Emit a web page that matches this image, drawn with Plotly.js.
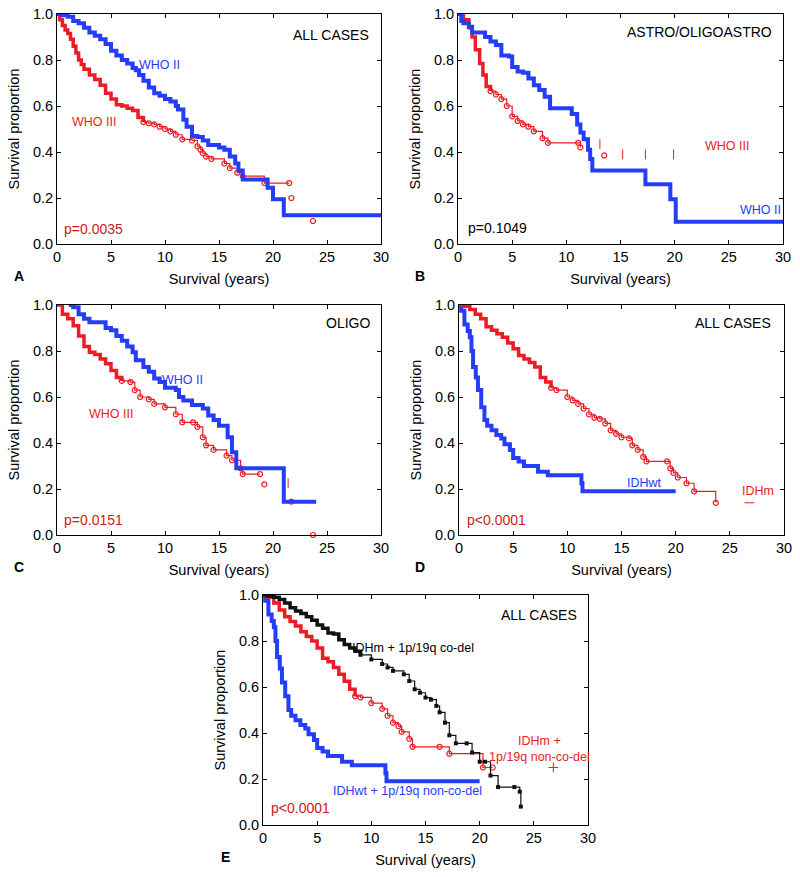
<!DOCTYPE html>
<html>
<head>
<meta charset="utf-8">
<script src="https://cdn.plot.ly/plotly-3.0.1.min.js"></script>
<style>html,body{margin:0;padding:0;background:#fff;}#chart{width:800px;height:877px;}</style>
</head>
<body>
<div id="chart"></div>
<script>
// ---------- DATA ----------
// Panel A: all cases, WHO II vs WHO III
const aWho2T = [0, 0.5, 1, 1.5, 2, 2.5, 3, 3.5, 4, 4.5, 5, 5.5, 6, 6.5, 7, 7.3, 7.6, 8, 8.5, 9, 9.5, 10, 10.5, 11, 11.2, 11.7, 12, 12.5, 13, 13.5, 14, 15, 15.5, 16, 16.5, 16.8, 17.2, 19.5, 20, 21, 30];
const aWho2S = [1, 0.995, 0.988, 0.97, 0.96, 0.94, 0.92, 0.905, 0.89, 0.87, 0.84, 0.82, 0.80, 0.785, 0.765, 0.755, 0.735, 0.71, 0.68, 0.655, 0.645, 0.63, 0.62, 0.60, 0.585, 0.54, 0.51, 0.47, 0.465, 0.45, 0.43, 0.42, 0.41, 0.38, 0.35, 0.32, 0.28, 0.245, 0.195, 0.125, 0.125];
const aWho3T = [0, 0.25, 0.5, 0.75, 1, 1.25, 1.5, 1.75, 2, 2.25, 2.5, 3, 3.5, 4, 4.5, 5, 5.5, 6, 6.5, 7, 7.5, 8, 8.5, 9, 9.5, 10, 10.5, 11, 11.6, 12.5, 13, 13.3, 13.5, 13.8, 14.3, 15.5, 16, 16.7, 17.2, 19.2, 21.5];
const aWho3S = [1, 0.975, 0.95, 0.93, 0.915, 0.89, 0.86, 0.83, 0.80, 0.78, 0.76, 0.735, 0.715, 0.69, 0.655, 0.63, 0.605, 0.60, 0.59, 0.58, 0.55, 0.53, 0.525, 0.52, 0.51, 0.50, 0.49, 0.475, 0.455, 0.45, 0.425, 0.41, 0.395, 0.38, 0.37, 0.35, 0.33, 0.31, 0.295, 0.265, 0.265];
const aWho3LateT = [21.7, 23.7];
const aWho3LateS = [0.20, 0.10];

// Panel B: astro / oligoastro
const bWho2T = [0, 0.3, 0.5, 1, 1.3, 2, 2.5, 3, 3.5, 4, 4.7, 5, 5.5, 6, 6.5, 7, 7.5, 8, 8.5, 10.3, 10.5, 11, 11.3, 11.6, 12, 12.2, 12.4, 17.3, 19.6, 20.1, 30];
const bWho2S = [1, 0.97, 0.96, 0.945, 0.92, 0.92, 0.90, 0.88, 0.865, 0.82, 0.815, 0.77, 0.75, 0.745, 0.72, 0.69, 0.67, 0.64, 0.59, 0.59, 0.565, 0.52, 0.485, 0.455, 0.41, 0.37, 0.32, 0.26, 0.195, 0.097, 0.097];
const bWho3T = [0, 0.5, 1, 1.3, 1.6, 2, 2.3, 2.6, 3, 3.5, 4, 4.5, 5, 5.5, 6, 6.5, 7, 7.8, 8.3, 11.1, 11.3];
const bWho3S = [1, 0.975, 0.94, 0.90, 0.845, 0.785, 0.735, 0.685, 0.665, 0.65, 0.63, 0.60, 0.555, 0.535, 0.52, 0.51, 0.49, 0.46, 0.44, 0.44, 0.42];
const bWho3LateT = [13.5];
const bWho3LateS = [0.385];
const bCensorT = [13.1, 15.2, 17.3, 19.9];
const bCensorS = [0.435, 0.39, 0.39, 0.39];

// Panel C: oligo
const cWho2T = [1.1, 1.5, 2, 2.5, 3, 4, 4.5, 5, 5.5, 6, 6.5, 7, 7.3, 8, 8.5, 9, 9.5, 10, 11, 11.3, 11.7, 12.5, 13.5, 14, 14.5, 15, 15.8, 16.2, 16.6, 21, 24];
const cWho2S = [1, 0.99, 0.96, 0.94, 0.925, 0.925, 0.90, 0.89, 0.865, 0.845, 0.82, 0.795, 0.76, 0.73, 0.71, 0.68, 0.665, 0.64, 0.63, 0.60, 0.585, 0.565, 0.55, 0.52, 0.50, 0.475, 0.425, 0.36, 0.29, 0.145, 0.145];
const cWho3T = [0, 0.5, 1, 1.5, 2, 2.5, 3, 3.5, 4, 4.5, 5, 5.5, 6, 6.8, 7.2, 7.7, 8.5, 9, 10, 11, 11.6, 12.6, 13, 13.5, 13.8, 14.5, 15.7, 16.2, 17, 17.2, 18.8];
const cWho3S = [1, 0.96, 0.94, 0.91, 0.865, 0.82, 0.795, 0.785, 0.765, 0.745, 0.715, 0.685, 0.67, 0.665, 0.63, 0.60, 0.59, 0.57, 0.555, 0.525, 0.49, 0.49, 0.47, 0.425, 0.39, 0.37, 0.345, 0.325, 0.29, 0.265, 0.265];
const cWho3LateT = [19.2, 21.7, 23.7];
const cWho3LateS = [0.22, 0.145, 0.0];
const cCensorT = [21.4];
const cCensorS = [0.225];

// Panel D: IDH status
const dWtT = [0, 0.2, 0.5, 0.8, 1.0, 1.15, 1.3, 1.55, 1.75, 2.05, 2.35, 2.6, 3.0, 3.45, 3.9, 4.2, 4.7, 5.0, 5.5, 6.0, 7.3, 8.2, 11.3, 11.4, 20];
const dWtS = [1, 0.975, 0.915, 0.887, 0.86, 0.80, 0.73, 0.685, 0.63, 0.555, 0.50, 0.475, 0.455, 0.435, 0.42, 0.395, 0.37, 0.335, 0.32, 0.30, 0.275, 0.26, 0.225, 0.19, 0.19];
const dMutT = [0, 0.5, 1, 1.5, 2, 2.5, 3, 3.5, 4, 4.5, 5, 5.5, 6, 6.5, 7, 7.5, 8, 8.5, 9, 10, 10.5, 11, 11.5, 12, 12.5, 13, 13.5, 14, 14.5, 15, 15.7, 16, 16.5, 17, 17.3, 19.2, 19.5, 19.8, 20.2, 21, 21.7, 23.7];
const dMutS = [1, 0.995, 0.98, 0.96, 0.94, 0.905, 0.89, 0.875, 0.86, 0.835, 0.81, 0.78, 0.765, 0.75, 0.73, 0.685, 0.665, 0.64, 0.63, 0.60, 0.585, 0.57, 0.55, 0.525, 0.51, 0.505, 0.485, 0.455, 0.44, 0.425, 0.42, 0.39, 0.37, 0.34, 0.32, 0.32, 0.29, 0.27, 0.25, 0.225, 0.19, 0.14];
const dCensorT = [26.8];
const dCensorS = [0.14];

// Panel E: IDH + 1p/19q
const eCodelT = [0, 0.5, 1, 1.5, 2, 2.5, 3, 3.5, 4, 4.5, 5, 5.5, 6, 6.5, 7, 7.5, 8, 8.5, 9, 10, 11, 11.5, 12, 13, 13.5, 14, 14.5, 15, 15.5, 16, 16.3, 16.8, 17.2, 17.8, 18.8, 19.3, 20, 20.5, 21, 21.7, 23.2, 23.7, 23.8];
const eCodelS = [1, 0.995, 0.99, 0.98, 0.965, 0.945, 0.93, 0.92, 0.905, 0.89, 0.87, 0.855, 0.835, 0.83, 0.805, 0.785, 0.77, 0.755, 0.74, 0.72, 0.70, 0.685, 0.67, 0.655, 0.626, 0.59, 0.575, 0.554, 0.545, 0.518, 0.49, 0.445, 0.39, 0.355, 0.355, 0.315, 0.275, 0.275, 0.215, 0.165, 0.165, 0.145, 0.08];
const eNonT = [0, 0.5, 1, 1.5, 2, 2.5, 3, 3.5, 4, 4.5, 5, 5.5, 6, 6.5, 7, 7.5, 8, 8.5, 9, 10, 11, 11.5, 12, 12.5, 12.8, 13.5, 13.8, 16.3, 17.2, 20.3, 21.2];
const eNonS = [1, 0.99, 0.965, 0.935, 0.905, 0.885, 0.865, 0.84, 0.82, 0.80, 0.77, 0.725, 0.71, 0.685, 0.655, 0.625, 0.59, 0.56, 0.555, 0.53, 0.505, 0.475, 0.445, 0.43, 0.405, 0.375, 0.34, 0.34, 0.31, 0.25, 0.25];
const eNonCensorT = [26.8];
const eNonCensorS = [0.25];
const eWtT = [0, 0.2, 0.5, 0.8, 1.0, 1.15, 1.3, 1.55, 1.75, 2.05, 2.35, 2.6, 3.0, 3.45, 3.9, 4.2, 4.7, 5.0, 5.5, 6.0, 7.3, 8.2, 11.3, 11.4, 20];
const eWtS = [1, 0.975, 0.915, 0.887, 0.86, 0.80, 0.73, 0.68, 0.62, 0.56, 0.50, 0.475, 0.455, 0.435, 0.42, 0.395, 0.37, 0.335, 0.32, 0.30, 0.275, 0.26, 0.225, 0.19, 0.19];

// Axis ticks
const xTicks = [0, 5, 10, 15, 20, 25, 30];
const yTicks = [0, 0.2, 0.4, 0.6, 0.8, 1.0];
const yTickText = ['0.0', '0.2', '0.4', '0.6', '0.8', '1.0'];

// ---------- STYLE ----------
const BLUE = 'rgb(36,62,248)';
const RED = 'rgb(235,28,36)';
const PRED = 'rgb(205,25,30)';
const BLACK = '#111';
const FONT = 'Liberation Sans, Arial, Helvetica, sans-serif';
const W = 800, H = 877;

// panel boxes in pixels: [left, right, top, bottom]
const boxes = [
  [57, 381, 14, 244],
  [458, 783, 14, 244],
  [57, 381, 305, 535],
  [459, 784, 305, 535],
  [263, 588, 595, 825]
];

function axId(i, p) { return i === 0 ? p : p + (i + 1); }

const layout = {
  width: W, height: H,
  margin: {l: 0, r: 0, t: 0, b: 0},
  paper_bgcolor: '#fff', plot_bgcolor: '#fff',
  showlegend: false,
  font: {family: FONT, size: 14, color: '#000'},
  annotations: []
};

boxes.forEach((b, i) => {
  const common = {
    showline: true, linecolor: '#000', linewidth: 1, mirror: 'allticks',
    ticks: 'inside', ticklen: 4, tickwidth: 1, tickcolor: '#000',
    showgrid: false, zeroline: false, fixedrange: true,
    tickfont: {family: FONT, size: 14.5, color: '#000'}
  };
  layout['xaxis' + (i === 0 ? '' : i + 1)] = Object.assign({}, common, {
    domain: [b[0] / W, b[1] / W],
    anchor: axId(i, 'y'),
    range: [0, 30], tickvals: xTicks,
    title: {text: 'Survival (years)', font: {family: FONT, size: 14.5, color: '#000'}, standoff: 9}
  });
  layout['yaxis' + (i === 0 ? '' : i + 1)] = Object.assign({}, common, {
    domain: [1 - b[3] / H, 1 - b[2] / H],
    anchor: axId(i, 'x'),
    range: [0, 1], tickvals: yTicks, ticktext: yTickText,
    title: {text: 'Survival proportion', font: {family: FONT, size: 14.5, color: '#000'}, standoff: 9}
  });
});

const traces = [];
function base(i, T, S) {
  return {x: T, y: S, xaxis: axId(i, 'x'), yaxis: axId(i, 'y'), type: 'scatter', cliponaxis: false, hoverinfo: 'skip'};
}
function bluePath(i, T, S) {
  traces.push(Object.assign(base(i, T, S), {mode: 'lines', line: {color: BLUE, width: 4, shape: 'hv'}}));
}
// dense early part drawn as a thick band, sparse late part as thin line with open circles
function redPath(i, T, S, cut) {
  const k = T.findIndex(t => t >= cut);
  const e = k < 0 ? T.length : k + 1;
  traces.push(Object.assign(base(i, T.slice(0, e), S.slice(0, e)), {mode: 'lines', line: {color: RED, width: 3.5, shape: 'hv'}}));
  if (k >= 0) {
    traces.push(Object.assign(base(i, T.slice(k), S.slice(k)), {mode: 'lines+markers',
      line: {color: RED, width: 1.2, shape: 'hv'},
      marker: {symbol: 'circle-open', size: 5, color: RED, line: {width: 1.2}}}));
  }
}
function blackPath(i, T, S, cut) {
  const k = T.findIndex(t => t >= cut);
  traces.push(Object.assign(base(i, T.slice(0, k + 1), S.slice(0, k + 1)), {mode: 'lines', line: {color: BLACK, width: 3.5, shape: 'hv'}}));
  traces.push(Object.assign(base(i, T.slice(k), S.slice(k)), {mode: 'lines+markers',
    line: {color: BLACK, width: 1.2, shape: 'hv'},
    marker: {symbol: 'square', size: 4, color: BLACK}}));
}
function dots(i, T, S, color) {
  traces.push(Object.assign(base(i, T, S), {mode: 'markers', marker: {symbol: 'circle-open', size: 5, color: color, line: {width: 1.2}}}));
}
function censor(i, T, S, color, sym) {
  traces.push(Object.assign(base(i, T, S), {mode: 'markers', marker: {symbol: sym || 'line-ns-open', size: 7, color: color, line: {width: 1, color: color}}}));
}

// A
redPath(0, aWho3T, aWho3S, 8); dots(0, aWho3LateT, aWho3LateS, RED); bluePath(0, aWho2T, aWho2S);
// B
redPath(1, bWho3T, bWho3S, 3); dots(1, bWho3LateT, bWho3LateS, RED); censor(1, bCensorT, bCensorS, RED); bluePath(1, bWho2T, bWho2S);
// C
redPath(2, cWho3T, cWho3S, 6); dots(2, cWho3LateT, cWho3LateS, RED); censor(2, cCensorT, cCensorS, RED); bluePath(2, cWho2T, cWho2S);
// D
bluePath(3, dWtT, dWtS); redPath(3, dMutT, dMutS, 8.5); censor(3, dCensorT, dCensorS, RED, 'line-ew-open');
// E
bluePath(4, eWtT, eWtS); redPath(4, eNonT, eNonS, 8.5); censor(4, eNonCensorT, eNonCensorS, RED, 'cross-thin-open'); blackPath(4, eCodelT, eCodelS, 9);

function note(i, x, y, text, color, size) {
  layout.annotations.push({xref: axId(i, 'x'), yref: axId(i, 'y'), x: x, y: y, text: text, showarrow: false,
    font: {family: FONT, size: size || 12.5, color: color}, xanchor: 'center', yanchor: 'middle'});
}
note(0, 25.4, 0.91, 'ALL CASES', '#000', 14);
note(0, 9.5, 0.78, 'WHO II', BLUE);
note(0, 3.4, 0.53, 'WHO III', RED);
note(0, 3.4, 0.065, 'p=0.0035', PRED, 14);

note(1, 22.3, 0.92, 'ASTRO/OLIGOASTRO', '#000', 14);
note(1, 24.8, 0.425, 'WHO III', RED);
note(1, 27.9, 0.15, 'WHO II', BLUE);
note(1, 3.6, 0.07, 'p=0.1049', '#000', 14);

note(2, 26.9, 0.92, 'OLIGO', '#000', 14);
note(2, 11.6, 0.675, 'WHO II', BLUE);
note(2, 5.0, 0.527, 'WHO III', RED);
note(2, 3.4, 0.065, 'p=0.0151', PRED, 14);

note(3, 25.3, 0.92, 'ALL CASES', '#000', 14);
note(3, 17.1, 0.227, 'IDHwt', BLUE);
note(3, 27.6, 0.19, 'IDHm', RED);
note(3, 3.5, 0.065, 'p<0.0001', PRED, 14);

note(4, 25.5, 0.914, 'ALL CASES', '#000', 14);
note(4, 13.8, 0.77, 'IDHm + 1p/19q co-del', '#000');
note(4, 25.5, 0.33, 'IDHm +<br>1p/19q non-co-del', RED);
note(4, 13.3, 0.147, 'IDHwt + 1p/19q non-co-del', BLUE);
note(4, 3.5, 0.072, 'p<0.0001', PRED, 14);

// panel letters
const letters = [['A', 19, 276], ['B', 420, 276], ['C', 19, 567], ['D', 420, 567], ['E', 225, 857]];
letters.forEach(l => {
  layout.annotations.push({xref: 'paper', yref: 'paper', x: l[1] / W, y: 1 - l[2] / H, text: '<b>' + l[0] + '</b>',
    showarrow: false, xanchor: 'center', yanchor: 'middle', font: {family: FONT, size: 14, color: '#000'}});
});

Plotly.newPlot('chart', traces, layout, {staticPlot: true, displayModeBar: false});
</script>
</body>
</html>
